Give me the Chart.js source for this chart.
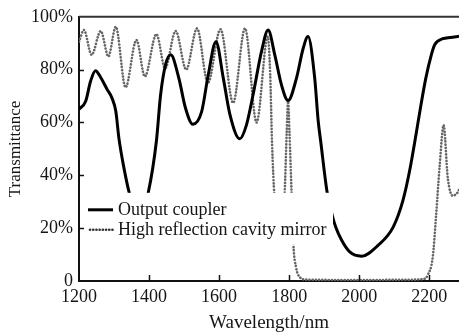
<!DOCTYPE html>
<html><head><meta charset="utf-8">
<script src="https://cdn.jsdelivr.net/npm/chart.js@4"></script>
<style>html,body{margin:0;padding:0;background:#fff;overflow:hidden}</style>
</head><body>
<canvas id="c" width="459" height="334"></canvas>
<script>
// ---- data ----
const seriesNames = ['Output coupler', 'High reflection cavity mirror'];

const couplerWavelength = [1200,1219,1233,1247,1262,1280,1294,1305,1314,1328,1343,1370,1398,1421,1433,1447,1462,1485,1504,1525,1550,1569,1591,1612,1631,1659,1678,1697,1721,1740,1759,1778,1797,1821,1840,1854,1873,1883,1890,1908,1920,1933,1950,1973,2007,2054,2097,2125,2144,2163,2173,2190,2206,2216,2239,2260,2285];
const couplerTransmittance = [65,68,75.6,79.6,77,72.6,69.3,64.3,54,43,33.6,22,33.6,53,70.5,81.8,85.6,76.8,65.5,59.3,64,78,90.6,76.8,63,53.8,59,70.5,86.8,95,85.6,74.3,68.3,76.8,88,92.5,76.8,60.5,53,34,26.5,20.4,15.4,11,9.4,13.5,20.4,30.5,41.7,56,64,76.6,85.6,89.5,91.7,92.2,92.6];

const mirrorWavelength = [1200,1214,1236,1262,1284,1305,1333,1364,1388,1421,1446,1476,1506,1537,1568,1604,1640,1674,1707,1739,1746,1751,1758,1772,1787,1793,1797,1801,1807,1812,1820,1830,1850,1950,2050,2150,2185,2196,2210,2220,2230,2241,2253,2267,2281,2285];
const mirrorTransmittance = [90.6,95,85.6,94.6,85,96.2,73.3,91.2,77.4,93.4,80.5,94.6,80,95.6,75,95.3,67.4,95.6,60,92.5,78,53,32,18,33,56,68,56,33,14,5,1.5,0.5,0.4,0.4,0.5,0.8,2.3,9,25.6,44,59,39,32.3,33.5,34.5];

const xTickValues = [1200,1400,1600,1800,2000,2200];
const xTickLabels = ['1200','1400','1600','1800','2000','2200'];
const yTickValues = [0,20,40,60,80,100];
const yTickLabels = ['0','20%','40%','60%','80%','100%'];
const xTitle = 'Wavelength/nm';
const yTitle = 'Transmittance';

// ---- styling ----
const FONT = "'Liberation Serif','Times New Roman',serif";
const TEXT = '#151515';
const DOT = '#666666';

function pts(xs, ys){ return xs.map((x,i)=>({x:x, y:ys[i]})); }

const framePlugin = {
  id: 'frame',
  afterDatasetsDraw(chart){
    const ctx = chart.ctx, a = chart.chartArea;
    // legend with white background (inside plot)
    const bx = a.left + 3, by = a.top + 176, bw = 251, bh = 52;
    ctx.save();
    ctx.fillStyle = '#fff';
    ctx.fillRect(bx, by, bw, bh);
    const ds = chart.data.datasets;
    const rows = [by + 17, by + 37];
    // solid sample
    ctx.strokeStyle = ds[0].borderColor; ctx.lineWidth = 3; ctx.setLineDash([]);
    ctx.beginPath(); ctx.moveTo(bx + 6, rows[0]); ctx.lineTo(bx + 31, rows[0]); ctx.stroke();
    // dotted sample
    ctx.strokeStyle = '#333'; ctx.lineWidth = ds[1].borderWidth;
    ctx.lineCap = 'round'; ctx.setLineDash(ds[1].borderDash);
    ctx.beginPath(); ctx.moveTo(bx + 8, rows[1]); ctx.lineTo(bx + 31, rows[1]); ctx.stroke();
    ctx.setLineDash([]);
    ctx.fillStyle = TEXT; ctx.font = '18px ' + FONT; ctx.textBaseline = 'middle'; ctx.textAlign = 'left';
    ctx.fillText(ds[0].label, bx + 36, rows[0]);
    ctx.fillText(ds[1].label, bx + 36, rows[1] + 0.5);
    ctx.restore();
  },
  afterDraw(chart){
    const ctx = chart.ctx, a = chart.chartArea;
    const xs = chart.scales.x, ys = chart.scales.y;
    ctx.save();
    // top frame line
    ctx.strokeStyle = '#333'; ctx.lineWidth = 2;
    ctx.beginPath(); ctx.moveTo(a.left, a.top); ctx.lineTo(a.right, a.top); ctx.stroke();
    // inward tick marks
    ctx.strokeStyle = '#111'; ctx.lineWidth = 1.5;
    xTickValues.forEach(v => {
      if (v === xs.min) return;
      const p = Math.round(xs.getPixelForValue(v)) + 0.5;
      ctx.beginPath(); ctx.moveTo(p, a.bottom); ctx.lineTo(p, a.bottom - 6); ctx.stroke();
    });
    yTickValues.forEach(v => {
      if (v === ys.min || v === ys.max) return;
      const p = Math.round(ys.getPixelForValue(v)) + 0.5;
      ctx.beginPath(); ctx.moveTo(a.left, p); ctx.lineTo(a.left + 5, p); ctx.stroke();
    });
    ctx.restore();
  }
};

new Chart(document.getElementById('c'), {
  type: 'line',
  data: {
    datasets: [
      { label: seriesNames[0], data: pts(couplerWavelength, couplerTransmittance),
        borderColor: '#000', borderWidth: 3, pointRadius: 0, fill: false,
        cubicInterpolationMode: 'monotone' },
      { label: seriesNames[1], data: pts(mirrorWavelength, mirrorTransmittance),
        borderColor: DOT, borderWidth: 2.6, borderDash: [0.1, 3.1], borderCapStyle: 'round',
        pointRadius: 0, fill: false, cubicInterpolationMode: 'monotone' }
    ]
  },
  options: {
    responsive: false, animation: false, devicePixelRatio: 1,
    layout: { padding: { top: 15, right: 0, bottom: 0, left: 0 } },
    plugins: { legend: { display: false }, tooltip: { enabled: false } },
    scales: {
      x: {
        type: 'linear', min: 1200, max: 2285,
        afterBuildTicks: s => { s.ticks = xTickValues.map(v => ({ value: v })); },
        afterFit: s => { s.height = 53; },
        grid: { display: true, drawOnChartArea: false, drawTicks: false },
        border: { display: true, color: '#111', width: 2 },
        ticks: { padding: 5, color: TEXT, font: { family: FONT, size: 18 }, maxRotation: 0,
          callback: (v) => { const i = xTickValues.indexOf(v); return i >= 0 ? xTickLabels[i] : ''; } },
        title: { display: true, text: xTitle, color: TEXT, font: { family: FONT, size: 19 }, padding: { top: 0, bottom: 0 } }
      },
      y: {
        type: 'linear', min: 0, max: 100,
        afterBuildTicks: s => { s.ticks = yTickValues.map(v => ({ value: v })); },
        afterFit: s => { s.width = 79; },
        grid: { display: true, drawOnChartArea: false, drawTicks: false },
        border: { display: true, color: '#111', width: 2 },
        ticks: { padding: 6, color: TEXT, font: { family: FONT, size: 18 },
          callback: (v) => { const i = yTickValues.indexOf(v); return i >= 0 ? yTickLabels[i] : ''; } },
        title: { display: true, text: yTitle, color: TEXT, font: { family: FONT, size: 17 }, padding: { top: 5, bottom: 0 } }
      }
    }
  },
  plugins: [framePlugin]
});
</script>
</body></html>
